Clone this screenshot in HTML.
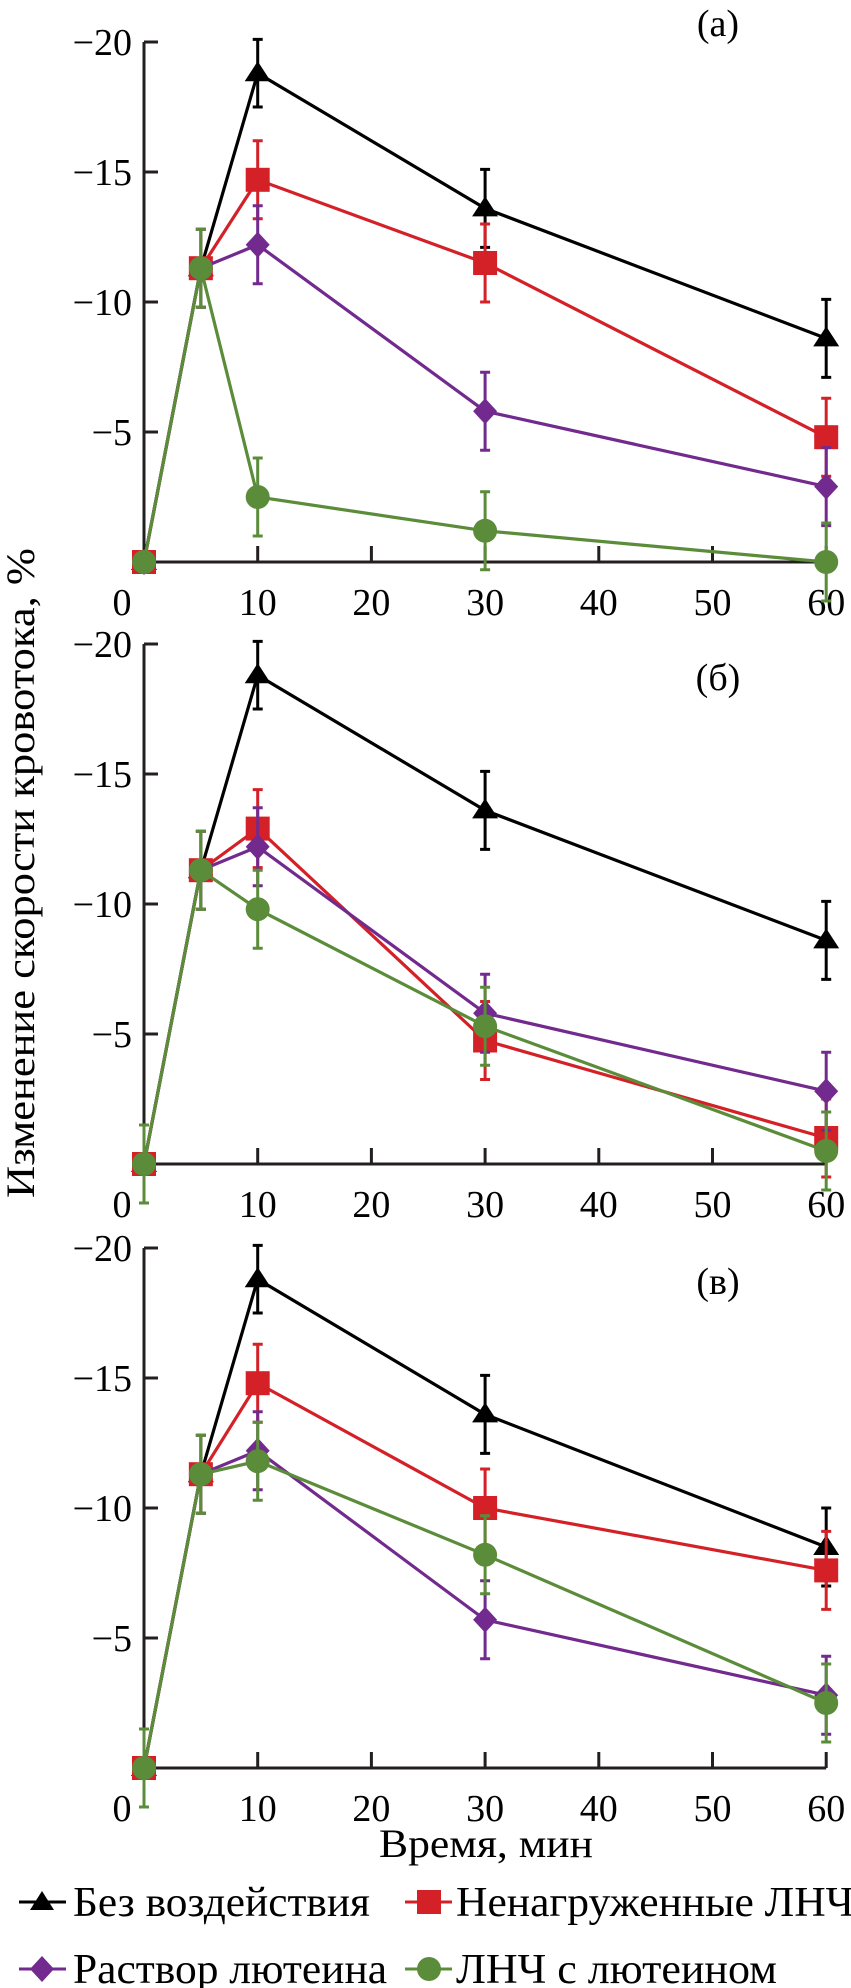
<!DOCTYPE html>
<html><head><meta charset="utf-8"><style>
html,body{margin:0;padding:0;background:#fff;}
svg{display:block;font-family:"Liberation Serif","Noto Serif CJK SC",serif;}
</style></head><body>
<svg id="chart" width="851" height="1988" viewBox="0 0 851 1988" xmlns="http://www.w3.org/2000/svg">
<text x="0" y="0" transform="translate(34,873) rotate(-90)" text-anchor="middle" font-size="40" textLength="650" lengthAdjust="spacingAndGlyphs">Изменение скорости кровотока, %</text>
<text x="486" y="1857" text-anchor="middle" font-size="40" textLength="214" lengthAdjust="spacingAndGlyphs">Время, мин</text>
<g>
 <g>
  <line x1="19" y1="1902" x2="66" y2="1902" stroke="#000" stroke-width="3"/>
  <polygon points="42,1891 54,1910 30,1910" fill="#000"/>
  <text x="73" y="1916" font-size="42" textLength="297" lengthAdjust="spacingAndGlyphs">Без воздействия</text>
 </g>
 <g>
  <line x1="405" y1="1902" x2="452" y2="1902" stroke="#d42027" stroke-width="3"/>
  <rect x="417" y="1890" width="24" height="24" fill="#d42027"/>
  <text x="456" y="1916" font-size="42" textLength="398" lengthAdjust="spacingAndGlyphs">Ненагруженные ЛНЧ</text>
 </g>
 <g>
  <line x1="19" y1="1969" x2="66" y2="1969" stroke="#722a8e" stroke-width="3"/>
  <polygon points="42,1956 54,1969 42,1982 30,1969" fill="#722a8e"/>
  <text x="73" y="1983" font-size="42" textLength="314" lengthAdjust="spacingAndGlyphs">Раствор лютеина</text>
 </g>
 <g>
  <line x1="405" y1="1969" x2="452" y2="1969" stroke="#5b8c3a" stroke-width="3"/>
  <circle cx="429" cy="1969" r="12" fill="#5b8c3a"/>
  <text x="456" y="1983" font-size="42" textLength="321" lengthAdjust="spacingAndGlyphs">ЛНЧ с лютеином</text>
 </g>
</g>
</svg>
<script>
const times = [0, 5, 10, 30, 60];
const xTicks = [0, 10, 20, 30, 40, 50, 60];
const yTicks = [-20, -15, -10, -5, 0];
const yTickLabels = ["−20", "−15", "−10", "−5", ""];
const panelLabels = ["(a)", "(б)", "(в)"];
const seriesNames = ["control", "unloaded-lnc", "lutein-solution", "lnc-lutein"];
// panel a
const aControl = [0, -11.3, -18.8, -13.6, -8.6];
const aUnloaded = [0, -11.3, -14.7, -11.5, -4.8];
const aLutein = [0, -11.3, -12.2, -5.8, -2.9];
const aLncLutein = [0, -11.3, -2.5, -1.2, 0];
// panel b
const bControl = [0, -11.3, -18.8, -13.6, -8.6];
const bUnloaded = [0, -11.3, -12.9, -4.75, -1.0];
const bLutein = [0, -11.3, -12.2, -5.8, -2.8];
const bLncLutein = [0, -11.3, -9.8, -5.3, -0.5];
// panel c
const cControl = [0, -11.3, -18.8, -13.6, -8.5];
const cUnloaded = [0, -11.3, -14.8, -10.0, -7.6];
const cLutein = [0, -11.3, -12.2, -5.7, -2.8];
const cLncLutein = [0, -11.3, -11.8, -8.2, -2.5];
// error magnitudes
const errControl = [0, 0, 1.3, 1.5, 1.5];
const errOther = [0, 1.5, 1.5, 1.5, 1.5];
const errLncA = [0, 1.5, 1.5, 1.5, 1.5];
const errLnc = [1.5, 1.5, 1.5, 1.5, 1.5];

const NS = "http://www.w3.org/2000/svg";
const svg = document.getElementById("chart");
const colors = ["#000000", "#d42027", "#722a8e", "#5b8c3a"];
const panelZeros = [562, 1164, 1768];
const panelData = [
  [aControl, aUnloaded, aLutein, aLncLutein],
  [bControl, bUnloaded, bLutein, bLncLutein],
  [cControl, cUnloaded, cLutein, cLncLutein]
];
const panelErrs = [
  [errControl, errOther, errOther, errLncA],
  [errControl, errOther, errOther, errLnc],
  [errControl, errOther, errOther, errLnc]
];
const panelNames = ["panel-a", "panel-b", "panel-c"];
function X(t){ return 144 + t * 11.37; }
function mk(tag, attrs, parent){
  const e = document.createElementNS(NS, tag);
  for (const k in attrs) e.setAttribute(k, attrs[k]);
  parent.appendChild(e); return e;
}
panelZeros.forEach((zero, p) => {
  const Y = v => zero + v * 26;
  const g = mk("g", {}, svg);
  
  
  const ax = mk("path", {d: `M${X(0)} ${Y(-20)} V${Y(0)} H${X(60)}`, fill: "none", stroke: "#231f20", "stroke-width": 3}, g);
  
  
  yTicks.forEach((v, i) => {
    if (v === 0) return;
    const t = mk("line", {x1: X(0), x2: X(0) + 14, y1: Y(v), y2: Y(v), stroke: "#231f20", "stroke-width": 3}, g);
    
    
    const l = mk("text", {x: 132, y: Y(v) + 13, "text-anchor": "end", "font-size": 38}, g);
    l.textContent = yTickLabels[i];
    
    
  });
  xTicks.forEach(t => {
    if (t !== 0) {
      const tk = mk("line", {x1: X(t), x2: X(t), y1: Y(0), y2: Y(0) - 16, stroke: "#231f20", "stroke-width": 3}, g);
      
      
    }
    const l = mk("text", {x: t === 0 ? 122 : X(t), y: Y(0) + 53, "text-anchor": "middle", "font-size": 38}, g);
    l.textContent = String(t);
    
    
  });
  const pl = mk("text", {x: 718, y: [36, 690, 1294][p], "text-anchor": "middle", "font-size": 38}, g);
  pl.textContent = panelLabels[p];
  
  
  panelData[p].forEach((vals, s) => {
    const c = colors[s];
    const sg = mk("g", {}, g);
    
    
    const errs = panelErrs[p][s];
    vals.forEach((v, i) => {
      const e = errs[i];
      if (e > 0) {
        const x = X(times[i]);
        const eb = mk("path", {d: `M${x} ${Y(v - e)} V${Y(v + e)} M${x - 5} ${Y(v - e)} H${x + 5} M${x - 5} ${Y(v + e)} H${x + 5}`, stroke: c, "stroke-width": 3, fill: "none"}, sg);
        
        
      }
    });
    const line = mk("polyline", {points: vals.map((v, i) => X(times[i]) + "," + Y(v)).join(" "), fill: "none", stroke: c, "stroke-width": 3.2}, sg);
    
    
    vals.forEach((v, i) => {
      const x = X(times[i]), y = Y(v);
      let m;
      if (s === 0) m = mk("polygon", {points: `${x},${y - 12} ${x + 13},${y + 8} ${x - 13},${y + 8}`, fill: c}, sg);
      else if (s === 1) m = mk("rect", {x: x - 12, y: y - 12, width: 24, height: 24, fill: c}, sg);
      else if (s === 2) m = mk("polygon", {points: `${x},${y - 13} ${x + 12},${y} ${x},${y + 13} ${x - 12},${y}`, fill: c}, sg);
      else m = mk("circle", {cx: x, cy: y, r: 12, fill: c}, sg);
      
      
    });
  });
});
</script>
</body></html>
